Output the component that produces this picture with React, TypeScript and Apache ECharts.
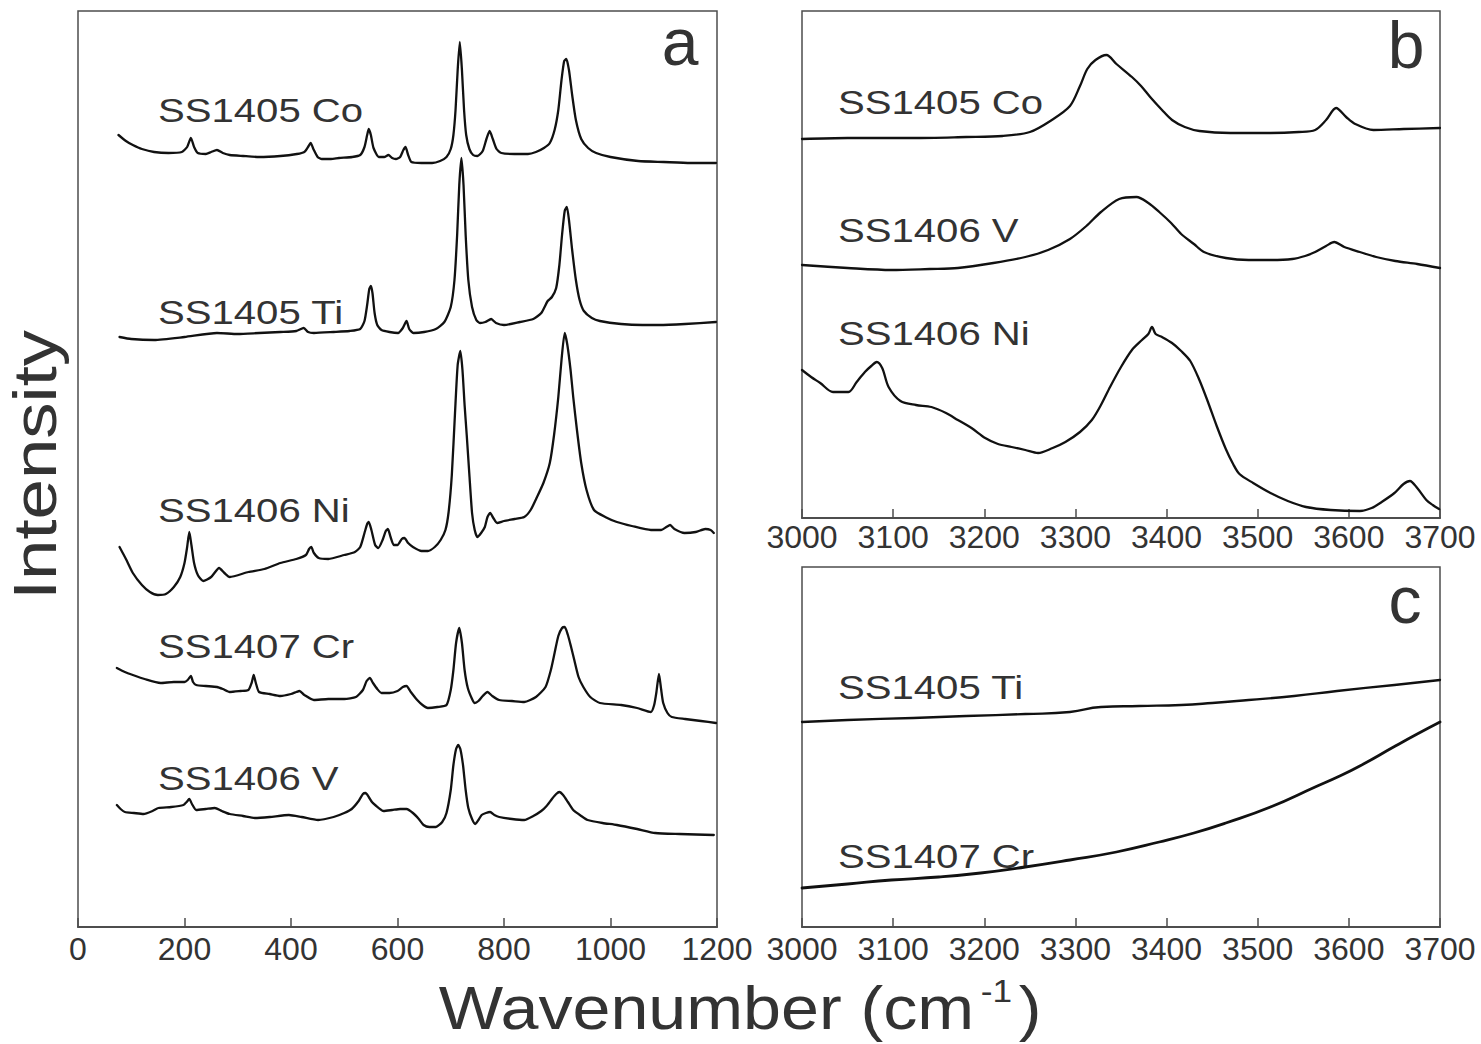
import React, { useEffect, useRef } from "react";
import * as echarts from "echarts";

// ---------- Panel a (Raman, 0–1200 cm-1), intensity in a.u. (stacked offsets included) ----------
const aTicks = [0, 200, 400, 600, 800, 1000, 1200];
const bcTicks = [3000, 3100, 3200, 3300, 3400, 3500, 3600, 3700];

const a_SS1405Co: [number, number][] = [
  [76, 790], [90, 784], [103, 780], [120, 776], [143, 773], [170, 772], [195, 773], [205, 778], [212, 787], [218, 778],
  [225, 772], [240, 771], [250, 773], [261, 775], [272, 772], [285, 770], [310, 769], [340, 768], [380, 769], [411, 771],
  [425, 773], [432, 778], [437, 782], [442, 776], [450, 768], [458, 766], [475, 766], [490, 767], [515, 768], [530, 770],
  [538, 778], [543, 790], [546, 796], [550, 790], [555, 777], [565, 768], [575, 768], [583, 770], [590, 767], [597, 766],
  [605, 768], [611, 775], [615, 778], [620, 770], [626, 763], [645, 762], [665, 762], [680, 764], [692, 768], [700, 776],
  [705, 790], [709, 815], [713, 855], [717, 883], [721, 855], [725, 815], [729, 790], [735, 776], [742, 770], [750, 769],
  [760, 774], [767, 786], [773, 794], [779, 786], [786, 776], [795, 772], [820, 771], [845, 771], [860, 773], [875, 777],
  [886, 782], [895, 795], [902, 815], [908, 845], [913, 864], [917, 866], [922, 855], [928, 830], [935, 805], [945, 786],
  [958, 777], [973, 772], [1000, 768], [1052, 764], [1100, 763], [1150, 762], [1198, 762],
];

const a_SS1405Ti: [number, number][] = [
  [78, 588], [100, 586], [143, 585], [200, 588], [261, 592], [300, 591], [340, 592], [380, 593], [410, 594], [424, 597],
  [432, 593], [443, 592], [480, 593], [510, 594], [530, 596], [538, 604], [543, 620], [547, 636], [550, 639], [553, 632],
  [557, 612], [562, 600], [570, 595], [585, 593], [601, 592], [610, 597], [617, 604], [622, 596], [630, 592], [650, 593],
  [672, 596], [688, 603], [700, 618], [707, 645], [712, 690], [716, 740], [720, 767], [724, 740], [728, 690], [733, 645],
  [740, 618], [748, 605], [755, 602], [765, 603], [776, 606], [785, 602], [800, 600], [830, 603], [855, 606], [870, 612],
  [882, 624], [890, 628], [898, 637], [904, 660], [909, 690], [914, 714], [918, 718], [922, 705], [928, 675], [935, 645],
  [942, 625], [950, 614], [965, 607], [980, 604], [1020, 601], [1060, 600], [1091, 600], [1140, 601], [1198, 603],
];

const a_SS1406Ni: [number, number][] = [
  [78, 378], [90, 366], [103, 352], [120, 340], [135, 333], [150, 330], [165, 331], [180, 338], [192, 348], [200, 362],
  [205, 378], [209, 393], [213, 380], [218, 362], [225, 350], [235, 344], [250, 348], [265, 357], [275, 352], [285, 348],
  [320, 353], [350, 356], [380, 362], [410, 366], [428, 370], [434, 376], [438, 378], [443, 372], [452, 367], [470, 366],
  [500, 370], [520, 373], [530, 378], [538, 392], [543, 401], [546, 403], [551, 395], [558, 380], [564, 377], [572, 385],
  [578, 394], [582, 396], [587, 388], [593, 380], [600, 380], [608, 386], [613, 387], [620, 382], [629, 378], [645, 374],
  [657, 374], [670, 378], [681, 385], [690, 395], [696, 413], [702, 450], [708, 512], [713, 560], [718, 574], [722, 555],
  [726, 520], [730, 490], [735, 450], [740, 412], [745, 395], [750, 388], [757, 392], [764, 398], [769, 408], [774, 412],
  [780, 407], [787, 402], [800, 404], [820, 406], [838, 408], [850, 415], [862, 428], [874, 442], [886, 462], [894, 490],
  [902, 528], [908, 565], [914, 592], [919, 580], [925, 555], [930, 528], [937, 495], [945, 462], [955, 435], [969, 415],
  [990, 408], [1012, 403], [1040, 399], [1076, 395], [1095, 395], [1105, 398], [1112, 400], [1120, 396], [1139, 392],
  [1160, 393], [1178, 396], [1188, 395], [1194, 392],
];

const a_SS1407Cr: [number, number][] = [
  [73, 257], [88, 253], [103, 250], [125, 246], [155, 242], [180, 243], [200, 243], [206, 245], [212, 249], [216, 243],
  [222, 240], [240, 239], [261, 238], [272, 236], [285, 233], [305, 234], [320, 235], [326, 242], [330, 250], [334, 242],
  [340, 233], [360, 231], [380, 229], [400, 231], [410, 233], [416, 234], [425, 230], [443, 225], [470, 226], [500, 226],
  [522, 228], [535, 235], [542, 244], [548, 247], [554, 242], [562, 236], [570, 232], [585, 232], [600, 234], [610, 238],
  [617, 239], [625, 233], [637, 225], [647, 220], [657, 217], [675, 218], [692, 220], [700, 235], [705, 255], [710, 282],
  [716, 297], [721, 282], [726, 255], [732, 237], [740, 226], [745, 222], [752, 224], [760, 229], [769, 233], [778, 229],
  [791, 225], [815, 224], [838, 223], [860, 228], [878, 238], [888, 255], [895, 272], [902, 289], [909, 297], [914, 298],
  [920, 290], [926, 278], [932, 265], [940, 248], [949, 238], [962, 228], [980, 222], [1020, 220], [1050, 217], [1076, 213],
  [1082, 220], [1086, 232], [1091, 251], [1095, 236], [1099, 222], [1107, 212], [1115, 208], [1140, 206], [1170, 204],
  [1198, 202],
];

const a_SS1406V: [number, number][] = [
  [73, 120], [80, 116], [88, 113], [105, 112], [123, 111], [140, 114], [151, 117], [175, 118], [198, 120], [204, 123],
  [209, 126], [214, 121], [222, 115], [240, 116], [257, 117], [270, 114], [285, 111], [310, 109], [332, 107], [360, 108],
  [396, 110], [420, 108], [451, 105], [480, 108], [500, 112], [514, 116], [527, 124], [535, 131], [540, 132], [546, 128],
  [552, 123], [558, 120], [574, 114], [590, 115], [605, 116], [617, 116], [629, 112], [640, 106], [649, 100], [660, 98],
  [672, 98], [684, 103], [692, 112], [700, 135], [705, 160], [710, 176], [714, 180], [718, 176], [723, 160], [728, 135],
  [733, 117], [740, 106], [746, 101], [752, 105], [758, 110], [766, 112], [774, 113], [782, 110], [791, 108], [815, 106],
  [838, 105], [855, 109], [870, 114], [880, 119], [890, 126], [898, 131], [904, 133], [911, 130], [920, 123], [930, 115],
  [945, 109], [957, 105], [985, 102], [1012, 100], [1050, 96], [1084, 92], [1130, 91], [1194, 90],
];

// ---------- Panel b (3000–3700 cm-1) ----------
const b_SS1405Co: [number, number][] = [
  [3000, 379], [3050, 380], [3122, 380], [3180, 381], [3220, 382], [3250, 386], [3274, 398], [3294, 412], [3305, 432],
  [3313, 449], [3322, 458], [3334, 463], [3345, 454], [3362, 441], [3372, 432], [3382, 421], [3395, 408], [3406, 398],
  [3420, 391], [3436, 387], [3470, 385], [3514, 385], [3545, 386], [3563, 388], [3575, 398], [3586, 410], [3597, 401],
  [3607, 394], [3627, 388], [3660, 389], [3700, 390],
];

const b_SS1406V: [number, number][] = [
  [3000, 253], [3050, 250], [3098, 248], [3140, 249], [3171, 250], [3210, 255], [3245, 261], [3270, 268], [3294, 279],
  [3312, 292], [3328, 306], [3348, 319], [3367, 321], [3380, 315], [3392, 306], [3405, 295], [3416, 284], [3430, 274],
  [3441, 266], [3465, 260], [3490, 258], [3515, 258], [3538, 259], [3552, 262], [3563, 266], [3575, 272], [3584, 276],
  [3595, 271], [3612, 266], [3630, 261], [3651, 257], [3675, 254], [3700, 250],
];

const b_SS1406Ni: [number, number][] = [
  [3000, 148], [3010, 141], [3020, 135], [3034, 126], [3051, 126], [3060, 136], [3069, 146], [3076, 152], [3082, 156],
  [3088, 150], [3095, 131], [3108, 117], [3125, 113], [3142, 111], [3158, 105], [3171, 98], [3186, 90], [3201, 80],
  [3215, 74], [3230, 71], [3245, 68], [3259, 65], [3275, 70], [3289, 76], [3305, 86], [3318, 98], [3328, 113],
  [3338, 131], [3350, 151], [3362, 168], [3373, 178], [3380, 184], [3384, 191], [3388, 184], [3395, 181], [3406, 175],
  [3416, 167], [3426, 157], [3436, 138], [3445, 117], [3455, 92], [3465, 69], [3473, 54], [3480, 44], [3495, 35],
  [3514, 25], [3533, 17], [3553, 11], [3580, 8], [3612, 7], [3625, 10], [3636, 16], [3650, 25], [3660, 34], [3667, 37],
  [3675, 30], [3685, 18], [3692, 13], [3699, 9],
];

// ---------- Panel c (3000–3700 cm-1) ----------
const c_SS1405Ti: [number, number][] = [
  [3000, 203], [3050, 205], [3122, 207], [3180, 209], [3245, 211], [3294, 213], [3328, 218], [3370, 219], [3416, 220],
  [3450, 222], [3490, 225], [3540, 229], [3587, 234], [3650, 240], [3700, 245],
];

const c_SS1407Cr: [number, number][] = [
  [3000, 37], [3050, 41], [3098, 45], [3150, 48], [3196, 52], [3245, 58], [3294, 65], [3345, 73], [3392, 83],
  [3430, 92], [3465, 102], [3514, 118], [3563, 138], [3590, 149], [3612, 159], [3651, 179], [3675, 191], [3700, 203],
];

const FONT = "'Liberation Sans', Arial, Helvetica, sans-serif";
const TEXT = "#333333";
const FRAME = "#4d4d4d";
const LINE = "#111111";

function xAxisCfg(gridIndex: number, ticks: number[], margin: number) {
  return {
    type: "value" as const,
    gridIndex,
    min: ticks[0],
    max: ticks[ticks.length - 1],
    interval: ticks[1] - ticks[0],
    axisLine: { show: true, onZero: false, lineStyle: { color: FRAME, width: 2 } },
    axisTick: { show: true, inside: true, length: 9, lineStyle: { color: FRAME, width: 1.5 } },
    axisLabel: {
      show: true,
      margin,
      fontFamily: FONT,
      fontSize: 32,
      color: TEXT,
      showMinLabel: true,
      showMaxLabel: true,
      hideOverlap: false,
      formatter: (v: number) => String(v),
    },
    splitLine: { show: false },
  };
}

function seriesCfg(name: string, data: [number, number][], idx: number, width = 2.3, smooth = 0.2) {
  return {
    name,
    type: "line" as const,
    xAxisIndex: idx,
    yAxisIndex: idx,
    data,
    showSymbol: false,
    symbol: "none",
    silent: true,
    smooth,
    lineStyle: { color: LINE, width, join: "round", cap: "round" },
  };
}

function label(text: string, x: number, y: number) {
  return {
    type: "text",
    x,
    y,
    scaleX: 1.18,
    silent: true,
    style: {
      text,
      font: `34px ${FONT}`,
      fill: TEXT,
      align: "left",
      verticalAlign: "middle",
      textAlign: "left",
      textVerticalAlign: "middle",
    },
  };
}

function letter(text: string, x: number, y: number) {
  return {
    type: "text",
    x,
    y,
    silent: true,
    style: {
      text,
      font: `66px ${FONT}`,
      fill: TEXT,
      align: "center",
      verticalAlign: "middle",
      textAlign: "center",
      textVerticalAlign: "middle",
    },
  };
}

export default function App() {
  const ref = useRef<HTMLDivElement>(null);

  useEffect(() => {
    if (!ref.current) return;
    const chart = echarts.init(ref.current, null, { renderer: "svg" });
    const option = {
      animation: false,
      backgroundColor: "#ffffff",
      grid: [
        { left: 78, top: 11, width: 639, height: 916, show: true, borderColor: FRAME, borderWidth: 1.5, containLabel: false },
        { left: 802, top: 11, width: 638, height: 507, show: true, borderColor: FRAME, borderWidth: 1.5, containLabel: false },
        { left: 802, top: 567, width: 638, height: 360, show: true, borderColor: FRAME, borderWidth: 1.5, containLabel: false },
      ],
      xAxis: [xAxisCfg(0, aTicks, 6), xAxisCfg(1, bcTicks, 3), xAxisCfg(2, bcTicks, 6)],
      yAxis: [
        { type: "value", gridIndex: 0, min: -2, max: 914, show: false },
        { type: "value", gridIndex: 1, min: 0, max: 507, show: false },
        { type: "value", gridIndex: 2, min: -2, max: 358, show: false },
      ],
      series: [
        seriesCfg("a SS1405 Co", a_SS1405Co, 0),
        seriesCfg("a SS1405 Ti", a_SS1405Ti, 0),
        seriesCfg("a SS1406 Ni", a_SS1406Ni, 0),
        seriesCfg("a SS1407 Cr", a_SS1407Cr, 0),
        seriesCfg("a SS1406 V", a_SS1406V, 0),
        seriesCfg("b SS1405 Co", b_SS1405Co, 1, 2.3, 0.3),
        seriesCfg("b SS1406 V", b_SS1406V, 1, 2.3, 0.3),
        seriesCfg("b SS1406 Ni", b_SS1406Ni, 1, 2.3, 0.3),
        seriesCfg("c SS1405 Ti", c_SS1405Ti, 2, 2.3, 0.5),
        seriesCfg("c SS1407 Cr", c_SS1407Cr, 2, 2.8, 0.5),
      ],
      graphic: [
        label("SS1405 Co", 158, 110),
        label("SS1405 Ti", 158, 312),
        label("SS1406 Ni", 158, 510),
        label("SS1407 Cr", 158, 646),
        label("SS1406 V", 158, 778),
        label("SS1405 Co", 838, 102),
        label("SS1406 V", 838, 230),
        label("SS1406 Ni", 838, 333),
        label("SS1405 Ti", 838, 687),
        label("SS1407 Cr", 838, 856),
        letter("a", 680, 42),
        letter("b", 1406, 45),
        letter("c", 1405, 600),
        {
          type: "text",
          x: 34,
          y: 465,
          rotation: Math.PI / 2,
          scaleX: 1.17,
          silent: true,
          style: {
            text: "Intensity",
            font: `62px ${FONT}`,
            fill: TEXT,
            align: "center",
            verticalAlign: "middle",
            textAlign: "center",
            textVerticalAlign: "middle",
          },
        },
        {
          type: "text",
          x: 740,
          y: 1008,
          scaleX: 1.1,
          silent: true,
          style: {
            text: "{m|Wavenumber (cm}{s|-1}{m|)}",
            fill: TEXT,
            align: "center",
            verticalAlign: "middle",
            textAlign: "center",
            textVerticalAlign: "middle",
            rich: {
              m: { fontFamily: FONT, fontSize: 62, fill: TEXT, color: TEXT, lineHeight: 66 },
              s: { fontFamily: FONT, fontSize: 32, fill: TEXT, color: TEXT, verticalAlign: "top", lineHeight: 32, padding: [0, 6, 0, 6] },
            },
          },
        },
      ],
    };
    chart.setOption(option as any);
    return () => chart.dispose();
  }, []);

  return (
    <div
      ref={ref}
      style={{ position: "absolute", left: 0, top: 0, width: 1481, height: 1044, background: "#fff" }}
    />
  );
}
